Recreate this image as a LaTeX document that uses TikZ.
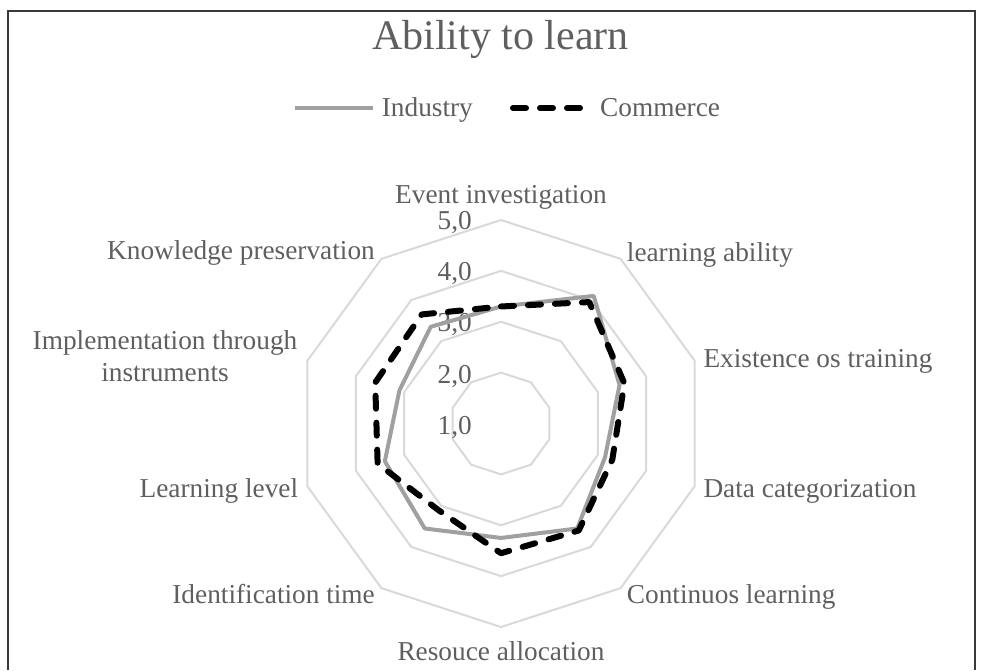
\documentclass[tikz,border=0pt]{standalone}
\usepackage{fontspec}
\setmainfont{Liberation Serif}
\usetikzlibrary{calc}
\definecolor{txtgray}{HTML}{5F5F5F}
\definecolor{gridgray}{HTML}{D9D9D9}
\definecolor{indgray}{HTML}{A0A0A0}
\definecolor{framegray}{HTML}{3A3A3A}
\begin{document}
\begin{tikzpicture}[x=1pt,y=1pt,
  lbl/.style={text=txtgray, inner sep=0pt, font=\fontsize{27.3}{31.7}\selectfont},
  ttl/.style={text=txtgray, inner sep=0pt, font=\fontsize{42}{48}\selectfont},
  ring/.style={draw=gridgray, line width=2pt, line join=miter},
  indline/.style={draw=indgray, line width=4pt, line join=round},
  comline/.style={draw=black, line width=6pt, line cap=round, line join=round, dash pattern=on 13pt off 14pt},
  framestyle/.style={draw=framegray, line width=2.5pt}
]
\useasboundingbox (0,0) rectangle (981,670);
% frame
\coordinate (f1) at (8,0);
\coordinate (f2) at (8,659);
\coordinate (f3) at (975,659);
\coordinate (f4) at (975,0);
\draw[framestyle] (f1) -- (f2) -- (f3) -- (f4);

% title and legend
\node[ttl, anchor=base] (title) at (500.5,620) {Ability to learn};
\coordinate (li1) at (295,562);
\coordinate (li2) at (373,562);
\draw[indline] (li1) -- (li2);
\node[lbl, anchor=base west] (lind) at (381.7,553) {Industry};
\coordinate (lc1) at (513,562);
\coordinate (lc2) at (580,562);
\draw[comline] (lc1) -- (lc2);
\node[lbl, anchor=base west] (lcom) at (600,553) {Commerce};

% radar grid
\coordinate (O) at (501,246.5);
\foreach \k in {1,...,4}{
  \draw[ring] ([shift={(90:\k*50.875)}]O)
    \foreach \i in {1,...,9}{ -- ([shift={({90-36*\i}:\k*50.875)}]O) } -- cycle;
}

% value labels
\node[lbl, anchor=base east] (v5) at (472,440) {5,0};
\node[lbl, anchor=base east] (v4) at (472,389.4) {4,0};
\node[lbl, anchor=base east] (v3) at (472,338.3) {3,0};
\node[lbl, anchor=base east] (v2) at (472,287) {2,0};
\node[lbl, anchor=base east] (v1) at (472,236) {1,0};

% category labels
\node[lbl, anchor=base] (c0) at (501,466) {Event investigation};
\node[lbl, anchor=base west] (c1) at (626.7,408.3) {learning ability};
\node[lbl, anchor=base west] (c2) at (703.3,302.7) {Existence os training};
\node[lbl, anchor=base west] (c3) at (703.3,172.7) {Data categorization};
\node[lbl, anchor=base west] (c4) at (626.7,66.7) {Continuos learning};
\node[lbl, anchor=base] (c5) at (501,10) {Resouce allocation};
\node[lbl, anchor=base east] (c6) at (375,66.7) {Identification time};
\node[lbl, anchor=base east] (c7) at (298.3,172.7) {Learning level};
\node[lbl, align=center, anchor=center] (c8) at (165,313.5) {Implementation through\\instruments};
\node[lbl, anchor=base east] (c9) at (375,410) {Knowledge preservation};

% data points
\foreach \v [count=\i from 0] in {3.3,4.1,3.45,3.15,3.55,3.25,3.55,3.4,3.1,3.35}{
  \coordinate (I\i) at ([shift={({90-36*\i}:{(\v-1)*50.875})}]O);
}
\foreach \v [count=\i from 0] in {3.3,3.95,3.55,3.3,3.6,3.55,3.1,3.55,3.6,3.65}{
  \coordinate (C\i) at ([shift={({90-36*\i}:{(\v-1)*50.875})}]O);
}
\draw[indline] (I0) -- (I1) -- (I2) -- (I3) -- (I4) -- (I5) -- (I6) -- (I7) -- (I8) -- (I9) -- cycle;
\draw[comline] (C0) -- (C1) -- (C2) -- (C3) -- (C4) -- (C5) -- (C6) -- (C7) -- (C8) -- (C9) -- cycle;
\end{tikzpicture}
\end{document}
